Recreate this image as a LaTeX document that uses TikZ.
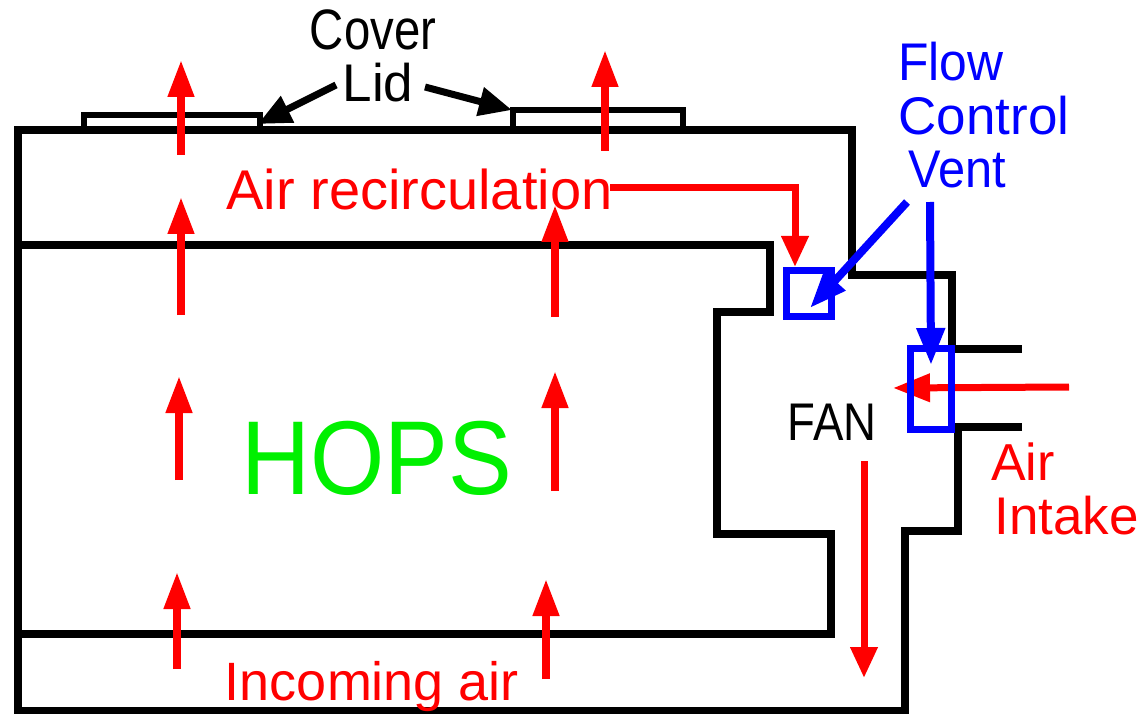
\documentclass[tikz,border=0pt]{standalone}
\usepackage{fontspec}
\setmainfont{Liberation Sans}
\usetikzlibrary{arrows.meta}
\definecolor{hopsgreen}{RGB}{0,240,0}
\tikzset{
  x=1pt,y=-1pt,
  wall/.style={draw=black,line width=7.2pt,line join=miter,line cap=butt},
  lidtop/.style={draw=black,line width=6.5pt,line join=miter,line cap=butt},
  redarrow/.style={draw=red,line width=7.5pt,-{Triangle[length=37pt,width=25pt,fill=red]}},
  redarrowflat/.style={draw=red,line width=7pt,-{Triangle[length=31pt,width=26pt,fill=red]}},
  blueleader/.style={draw=blue,line width=8pt,-{Triangle[length=37pt,width=27pt,fill=blue]}},
  blackleader/.style={draw=black,line width=7pt,-{Triangle[length=33pt,width=28pt,fill=black]}},
  vent/.style={draw=blue,line width=7.5pt,fill=none,inner sep=0pt,outer sep=0pt},
  lbl/.style={inner sep=0pt,anchor=base},
}
\newcommand{\fs}[1]{\fontsize{#1}{#1}\selectfont}
\newcommand{\nar}[2]{\scalebox{#1}[1]{#2}}
\begin{document}
\begin{tikzpicture}
\useasboundingbox (0,0) rectangle (1146,714);
% walls
\draw[wall] (908,711) -- (18,711) -- (18,130) -- (852,130) -- (852,275) -- (952,275) -- (952,349);
\draw[wall] (949,349) -- (1022,349);
\draw[wall] (1022,427) -- (958,427) -- (958,531) -- (905,531) -- (905,714);
\draw[wall] (18,245) -- (770,245) -- (770,312) -- (717,312) -- (717,534) -- (831,534) -- (831,634) -- (18,634);
\draw[lidtop] (84,128) -- (84,115) -- (260,115) -- (260,128);
\draw[lidtop] (513,128) -- (513,110) -- (683,110) -- (683,128);
% red arrows
\coordinate (a1) at (181,155); \coordinate (a1e) at (181,60);
\coordinate (a2) at (605,151); \coordinate (a2e) at (605,50);
\coordinate (a3) at (181,315); \coordinate (a3e) at (181,197);
\coordinate (a4) at (555,317); \coordinate (a4e) at (555,205);
\coordinate (a5) at (179,480); \coordinate (a5e) at (179,376);
\coordinate (a6) at (555,491); \coordinate (a6e) at (555,371);
\coordinate (a7) at (177,669); \coordinate (a7e) at (177,572);
\coordinate (a8) at (546,679); \coordinate (a8e) at (546,579);
\foreach \s/\e in {a1/a1e,a2/a2e,a3/a3e,a4/a4e,a5/a5e,a6/a6e,a7/a7e,a8/a8e}
  \draw[redarrow] (\s) -- (\e);
\coordinate (b1) at (864,461); \coordinate (b1e) at (864,678);
\draw[redarrowflat] (b1) -- (b1e);
\coordinate (b2) at (1069,387); \coordinate (b2e) at (893,388);
\draw[redarrowflat,-{Triangle[length=37pt,width=27pt,fill=red]}] (b2) -- (b2e);
\coordinate (b3) at (610,188); \coordinate (b3c) at (795,188); \coordinate (b3e) at (795,267);
\draw[redarrowflat] (b3) -- (b3c) -- (b3e);
% vents
\node[vent,minimum width=45pt,minimum height=46pt] (ventA) at (809,293.5) {};
\node[vent,minimum width=41pt,minimum height=81pt] (ventB) at (931,389) {};
\coordinate (ventAin) at (810,308);
\coordinate (ventBin) at (931,365);
% labels
\node[lbl,red] (recirc) at (419.5,210) {\fs{56}Air recirculation};
\node[lbl,red] (incoming) at (372,700) {\fs{54}Incoming air};
\node[lbl,red] (air) at (1023,480) {\fs{52}Air};
\node[lbl,red] (intake) at (1066.5,534) {\fs{53}Intake};
\node[lbl] (cover) at (373,50) {\fs{57}\nar{.83}{Cover}};
\node[lbl] (lid) at (378,102) {\fs{53}Lid};
\node[lbl,text=hopsgreen] (hops) at (377,494) {\fs{105}\nar{.91}{HOPS}};
\node[lbl] (fan) at (832,440) {\fs{53}\nar{.86}{FAN}};
\node[lbl,blue] (flow) at (951,81) {\fs{53}\nar{.94}{Flow}};
\node[lbl,blue] (control) at (984,135) {\fs{53}Control};
\node[lbl,blue] (ventl) at (957,188) {\fs{53}\nar{.92}{Vent}};
% leaders
\coordinate (l1) at (336,85); \coordinate (l1e) at (258,124);
\coordinate (l2) at (425,87); \coordinate (l2e) at (512,110);
\draw[blackleader] (l1) -- (l1e);
\draw[blackleader] (l2) -- (l2e);
\coordinate (f1) at (907,202);
\coordinate (f2) at (930,202);
\draw[blueleader] (f1) -- (ventAin);
\draw[blueleader] (f2) -- (ventBin);
\end{tikzpicture}
\end{document}
